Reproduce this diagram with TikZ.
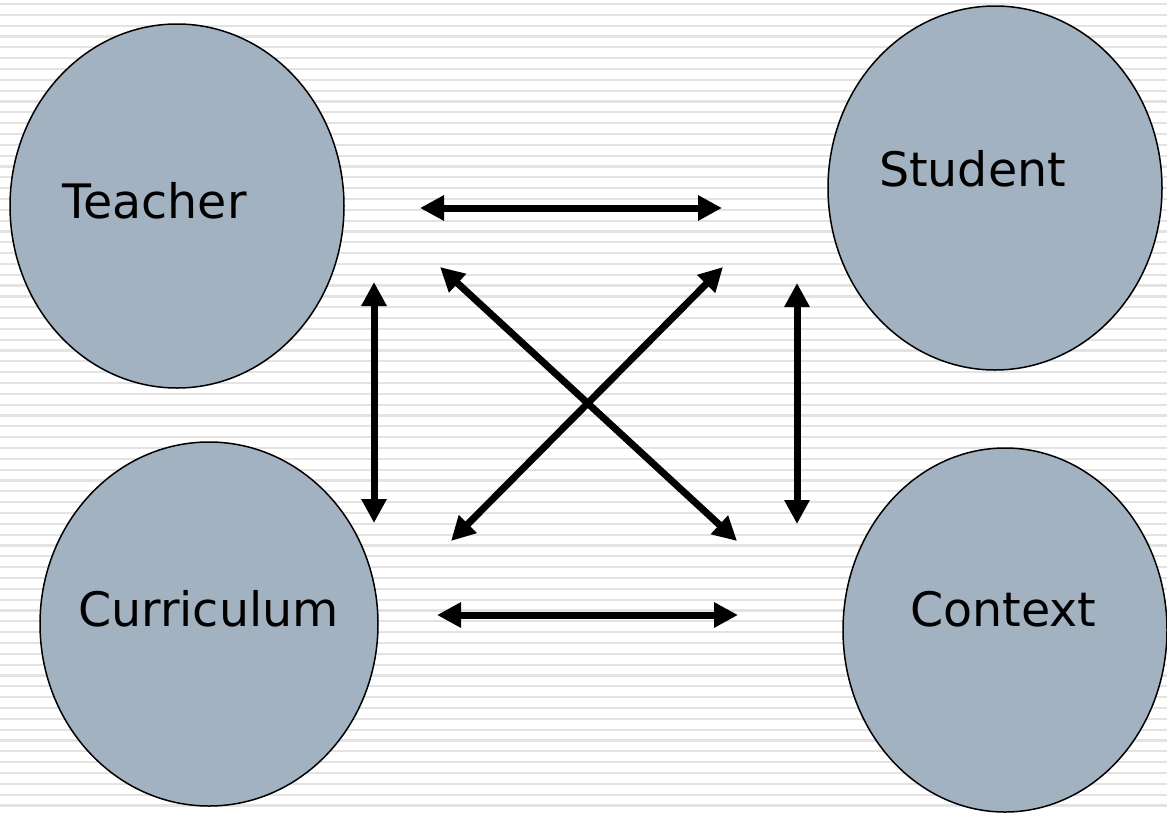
\documentclass[tikz,border=0pt]{standalone}
\usepackage{fontspec}
\setmainfont{DejaVu Sans}
\usetikzlibrary{arrows.meta}
\definecolor{blobfill}{HTML}{A3B2C1}
\definecolor{stripe}{HTML}{E3E3E3}
\tikzset{
  blob/.style={draw=black, line width=1.5pt, fill=blobfill},
  lbl/.style={font=\fontsize{47.5}{56}\selectfont, inner sep=0pt, anchor=base},
  dbl/.style={line width=7pt, {Triangle[length=24pt,width=24pt]}-{Triangle[length=24pt,width=24pt]}},
}
\begin{document}
\begin{tikzpicture}[x=1pt,y=-1pt]
\useasboundingbox (0,0) rectangle (1167,812);
\fill[white] (0,0) rectangle (1167,812);
\foreach \k in {0,...,75} {
  \draw[stripe, line width=2.2pt] (0,{4+10.83*\k}) -- (1167,{4+10.83*\k});
}
\draw[blob] (177,206) ellipse [x radius=167, y radius=182];
\draw[blob] (995,188) ellipse [x radius=167, y radius=182];
\draw[blob] (209,624) ellipse [x radius=169, y radius=182];
\draw[blob] (1005,630) ellipse [x radius=162, y radius=182];
\node[lbl] (teacher) at (154.5,218) {Teacher};
\node[lbl] (student) at (972.5,186.5) {Student};
\node[lbl] (curriculum) at (208.5,626.5) {Curriculum};
\node[lbl] (context) at (1003.5,626.5) {Context};
\coordinate (t1) at (420,208); \coordinate (t2) at (722,208);
\coordinate (b1) at (437,615); \coordinate (b2) at (738,615);
\coordinate (l1) at (374,282); \coordinate (l2) at (374,523);
\coordinate (r1) at (797,283); \coordinate (r2) at (797,524);
\coordinate (d1) at (440,267); \coordinate (d2) at (737,541);
\coordinate (e1) at (723,267); \coordinate (e2) at (451,541);
\draw[dbl] (t1) -- (t2);
\draw[dbl] (b1) -- (b2);
\draw[dbl] (l1) -- (l2);
\draw[dbl] (r1) -- (r2);
\draw[dbl] (d1) -- (d2);
\draw[dbl] (e1) -- (e2);
\end{tikzpicture}
\end{document}
